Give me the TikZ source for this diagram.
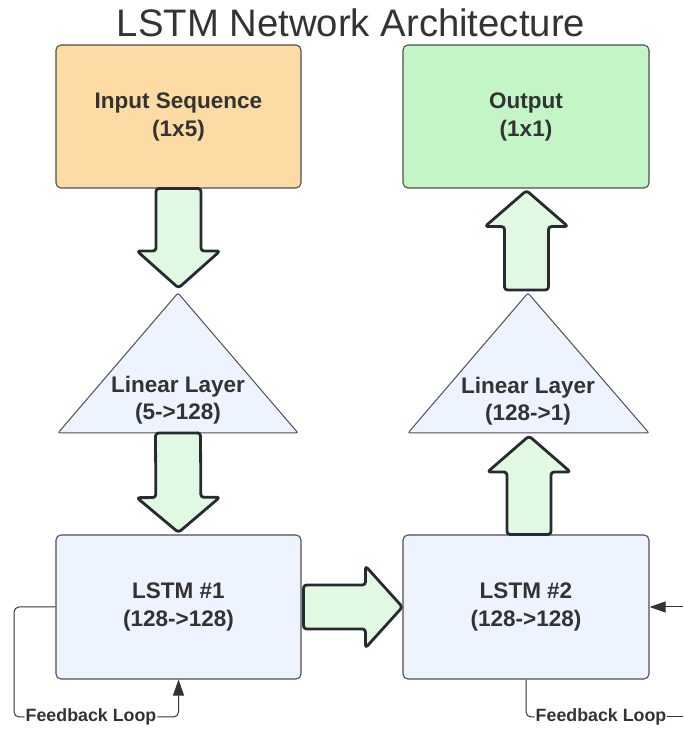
\documentclass[tikz,border=0pt]{standalone}
\usepackage{fontspec}
\setmainfont{Liberation Sans}
\usetikzlibrary{calc,arrows.meta}
\definecolor{txt}{HTML}{333333}
\definecolor{boxline}{HTML}{4F4F4F}
\definecolor{orangefill}{HTML}{FDDBA4}
\definecolor{greenfill}{HTML}{C3F5C6}
\definecolor{bluefill}{HTML}{EDF4FF}
\definecolor{arrowfill}{HTML}{E1F9E3}
\definecolor{arrowline}{HTML}{262B30}
\tikzset{
  box/.style={draw=boxline, line width=1.1pt, rounded corners=5pt, minimum width=245pt, minimum height=143pt, align=center, text=txt, font=\fontsize{22.5}{28}\selectfont\bfseries, inner sep=0pt},
  tri/.style={draw=boxline, line width=1pt, fill=bluefill, rounded corners=2pt},
  trilabel/.style={align=center, text=txt, font=\fontsize{22.5}{27}\selectfont\bfseries, inner sep=0pt},
  barrow/.style={draw=arrowline, line width=2.8pt, fill=arrowfill, rounded corners=3pt, line join=round},
  fb/.style={draw=txt, line width=1pt, rounded corners=5pt},
  fbtip/.style={-{Triangle[length=16pt,width=11pt]}},
  fblabel/.style={text=txt, font=\fontsize{17.8}{20}\selectfont\bfseries, inner sep=1pt},
}
\newcommand\blockarrow[5]{%
  \coordinate (ba-s) at #1;
  \coordinate (ba-e) at #2;
  \coordinate (ba-h) at ($(ba-e)!#5!(ba-s)$);
  \draw[barrow] ($(ba-s)!#3!90:(ba-e)$) -- ($(ba-h)!#3!90:(ba-e)$) -- ($(ba-h)!#4!90:(ba-e)$) -- (ba-e) -- ($(ba-h)!#4!-90:(ba-e)$) -- ($(ba-h)!#3!-90:(ba-e)$) -- ($(ba-s)!#3!-90:(ba-e)$) -- cycle;}
\begin{document}
\begin{tikzpicture}[x=1pt,y=1pt]
\useasboundingbox (0,0) rectangle (683,731);
% title
\node[anchor=base, text=txt, font=\fontsize{38.3}{40}\selectfont, inner sep=0pt] (title) at (351,694) {LSTM Network Architecture};
% boxes
\node[box, fill=orangefill] (in) at (178.5,614.5) {Input Sequence\\(1x5)};
\node[box, fill=greenfill, minimum width=246pt] (out) at (526,614.5) {Output\\(1x1)};
\node[box, fill=bluefill, minimum height=144pt] (lstm1) at (178.5,124) {LSTM \#1\\(128->128)};
\node[box, fill=bluefill, minimum width=246pt, minimum height=144pt] (lstm2) at (526,124) {LSTM \#2\\(128->128)};
% triangles
\coordinate (lin1apex) at (178,438);
\coordinate (lin1base) at (178,298);
\draw[tri] (58,298) -- (lin1apex) -- (298,298) -- cycle;
\node[trilabel] (lin1) at (178,331) {Linear Layer\\(5->128)};
\coordinate (lin2apex) at (528,438);
\coordinate (lin2base) at (528.5,298);
\draw[tri] (408,298) -- (lin2apex) -- (649,298) -- cycle;
\node[trilabel] (lin2) at (528,330) {Linear Layer\\(128->1)};
% block arrows
\blockarrow{(in.south)}{($(lin1apex)+(0.5,5)$)}{22.5pt}{41.5pt}{37pt}
\blockarrow{(lin1base)}{($(lstm1.north)+(0,2)$)}{22.5pt}{41.5pt}{35pt}
\blockarrow{($(lstm1.east)+(2,0)$)}{(lstm2.west)}{22pt}{41pt}{37pt}
\blockarrow{($(lstm2.north)+(3,0)$)}{($(lin2base)+(0.5,-3)$)}{22pt}{41.5pt}{36pt}
\blockarrow{($(lin2apex)+(-1.5,3)$)}{($(out.south)+(0.5,-2)$)}{22pt}{41.5pt}{36pt}
% feedback loops
\node[fblabel] (fb1) at (91,14) {Feedback Loop};
\node[fblabel] (fb2) at (601,14) {Feedback Loop};
\coordinate (fb1c1) at (14,124);
\coordinate (fb1c2) at (14,14);
\coordinate (fb1c3) at (178.5,14);
\draw[fb] (lstm1.west) -- (fb1c1) -- (fb1c2) -- (fb1.west);
\draw[fb, fbtip] (fb1.east) -- (fb1c3) -- (lstm1.south);
\coordinate (fb2c1) at (526,14);
\coordinate (fb2end) at (683,14);
\coordinate (fb2start) at (683,124);
\draw[fb] (lstm2.south) -- (fb2c1) -- (fb2.west);
\draw[fb] (fb2.east) -- (fb2end);
\draw[fb, fbtip] (fb2start) -- (lstm2.east);
\end{tikzpicture}
\end{document}
